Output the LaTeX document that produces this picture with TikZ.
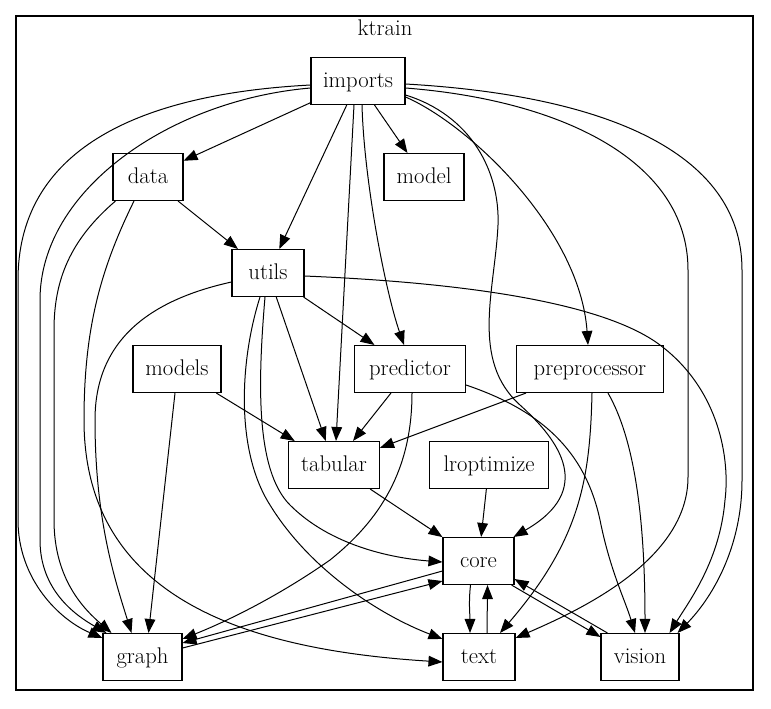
\documentclass[tikz,border=0pt]{standalone}
\usepackage{fontspec}
\usetikzlibrary{arrows.meta,calc}
\begin{document}
\begin{tikzpicture}[x=0.75pt,y=-0.75pt,
  lbl/.style={inner sep=0pt, text height=12pt, text depth=3pt, font=\fontsize{17pt}{20pt}\selectfont},
  box/.style={lbl, draw, line width=0.8pt, rectangle, minimum height=35.25pt},
  edge/.style={line width=0.75pt, -{Triangle[length=10.5pt,width=8pt]}},
]
\useasboundingbox (0,0) rectangle (771,708);
\draw[line width=0.9pt] (16,16) rectangle (753,690);
\node[lbl] (title) at (385,29) {ktrain};

\node[box, minimum width=70.5pt]  (imports)      at (358,81)  {imports};
\node[box, minimum width=52.5pt]  (data)         at (148,177) {data};
\node[box, minimum width=60pt]    (model)        at (424,177) {model};
\node[box, minimum width=54pt]    (utils)        at (268,273) {utils};
\node[box, minimum width=66pt]    (models)       at (177,369) {models};
\node[box, minimum width=83.25pt] (predictor)    at (410,369) {predictor};
\node[box, minimum width=110.25pt](preprocessor) at (590,369) {preprocessor};
\node[box, minimum width=68.25pt] (tabular)      at (334,465) {tabular};
\node[box, minimum width=89.25pt] (lroptimize)   at (489,465) {lroptimize};
\node[box, minimum width=53.25pt] (core)         at (478.5,561) {core};
\node[box, minimum width=59.25pt] (graph)        at (142.5,657) {graph};
\node[box, minimum width=54pt]    (text)         at (479,657) {text};
\node[box, minimum width=58.5pt]  (vision)       at (640,657) {vision};

% imports
\draw[edge] (imports) -- (data);
\draw[edge] (imports) -- (model);
\draw[edge] (imports) -- (utils);
\draw[edge] ($(imports.south)+(-4,0)$) -- ($(tabular.north)+(2,0)$);
\draw[edge] ($(imports.south)+(4,0)$) .. controls (364,180) and (385,290) .. ($(predictor.north)+(-6,0)$);
\draw[edge] ($(imports.east)+(0,16)$) .. controls (470,125) and (580,230) .. ($(preprocessor.north)+(-2,0)$);
\draw[edge] ($(imports.east)+(0,14)$) .. controls (470,115) and (500,170) .. (498,225)
   .. controls (495,290) and (470,360) .. (520,405)
   .. controls (560,441) and (595,490) .. ($(core.north east)+(-1,0)$);
\draw[edge] ($(imports.east)+(0,7)$) .. controls (560,100) and (688,160) .. (688,270) -- (688,477)
   .. controls (688,560) and (580,610) .. ($(text.north east)+(0,5)$);
\draw[edge] ($(imports.east)+(0,3)$) .. controls (600,95) and (742,150) .. (742,270) -- (742,480)
   .. controls (742,550) and (710,600) .. ($(vision.north east)+(-2,0)$);
\draw[edge] ($(imports.west)+(0,4)$) .. controls (120,95) and (18,160) .. (18,280) -- (18,520)
   .. controls (18,580) and (60,620) .. ($(graph.north west)+(0,5)$);
\draw[edge] ($(imports.west)+(0,7)$) .. controls (170,100) and (40,190) .. (40,300) -- (40,540)
   .. controls (40,590) and (75,615) .. ($(graph.north west)+(4,0)$);

% data
\draw[edge] (data) -- (utils);
\draw[edge] ($(data.south west)+(3,0)$) .. controls (70,240) and (54,280) .. (54,330) -- (54,520)
   .. controls (54,580) and (85,610) .. ($(graph.north west)+(9,0)$);
\draw[edge] ($(data.south)+(-14,0)$) .. controls (100,270) and (84,330) .. (84,420)
   .. controls (84,600) and (250,650) .. ($(text.west)+(0,5)$);

% utils
\draw[edge] (utils) -- (predictor);
\draw[edge] (utils) -- (tabular);
\draw[edge] ($(utils.south)+(-3,0)$) .. controls (258,380) and (255,470) .. (290,505)
   .. controls (330,545) and (390,558) .. ($(core.west)+(0,1)$);
\draw[edge] ($(utils.south)+(-8,0)$) .. controls (240,360) and (235,450) .. (270,505)
   .. controls (310,570) and (380,615) .. ($(text.north west)+(0,6)$);
\draw[edge] ($(utils.west)+(0,9)$) .. controls (150,300) and (95,340) .. (95,420)
   .. controls (95,520) and (115,580) .. ($(graph.north)+(-11,0)$);
\draw[edge] ($(utils.east)+(0,3)$) .. controls (450,282) and (600,300) .. (660,345)
   .. controls (720,390) and (730,460) .. (725,500)
   .. controls (720,560) and (690,600) .. ($(vision.north east)+(-10,0)$);

% models
\draw[edge] (models) -- (tabular);
\draw[edge] ($(models.south)+(-2,0)$) -- ($(graph.north)+(6,0)$);

% predictor
\draw[edge] (predictor) -- (tabular);
\draw[edge] ($(predictor.south)+(2,0)$) .. controls (412,470) and (380,520) .. (330,560)
   .. controls (280,595) and (230,620) .. ($(graph.north east)+(0,6)$);
\draw[edge] ($(predictor.east)+(0,16)$) .. controls (540,410) and (585,450) .. (600,520)
   .. controls (610,570) and (625,600) .. ($(vision.north)+(-5,0)$);

% preprocessor
\draw[edge] (preprocessor) -- (tabular);
\draw[edge] ($(preprocessor.south)+(2,0)$) .. controls (590,480) and (580,540) .. ($(text.north)+(21,0)$);
\draw[edge] ($(preprocessor.south)+(18,0)$) .. controls (635,440) and (645,520) .. ($(vision.north)+(5,0)$);

% lower
\draw[edge] (tabular) -- (core);
\draw[edge] (lroptimize) -- (core);
\draw[edge] ($(core.south)+(-8,0)$) .. controls +(-2,18) and +(0,-18) .. ($(text.north)+(-9,0)$);
\draw[edge] ($(text.north)+(8,0)$) .. controls +(0,-18) and +(0,18) .. ($(core.south)+(9,0)$);
\draw[edge] ($(core.south east)+(-3,0)$) -- ($(vision.north west)+(0,4)$);
\draw[edge] ($(vision.north west)+(7,0)$) -- ($(core.south east)+(0,-6)$);
\draw[edge] ($(core.west)+(0,10)$) -- ($(graph.east)+(0,-14)$);
\draw[edge] ($(graph.east)+(0,-9)$) -- ($(core.west)+(0,20)$);
\end{tikzpicture}
\end{document}
